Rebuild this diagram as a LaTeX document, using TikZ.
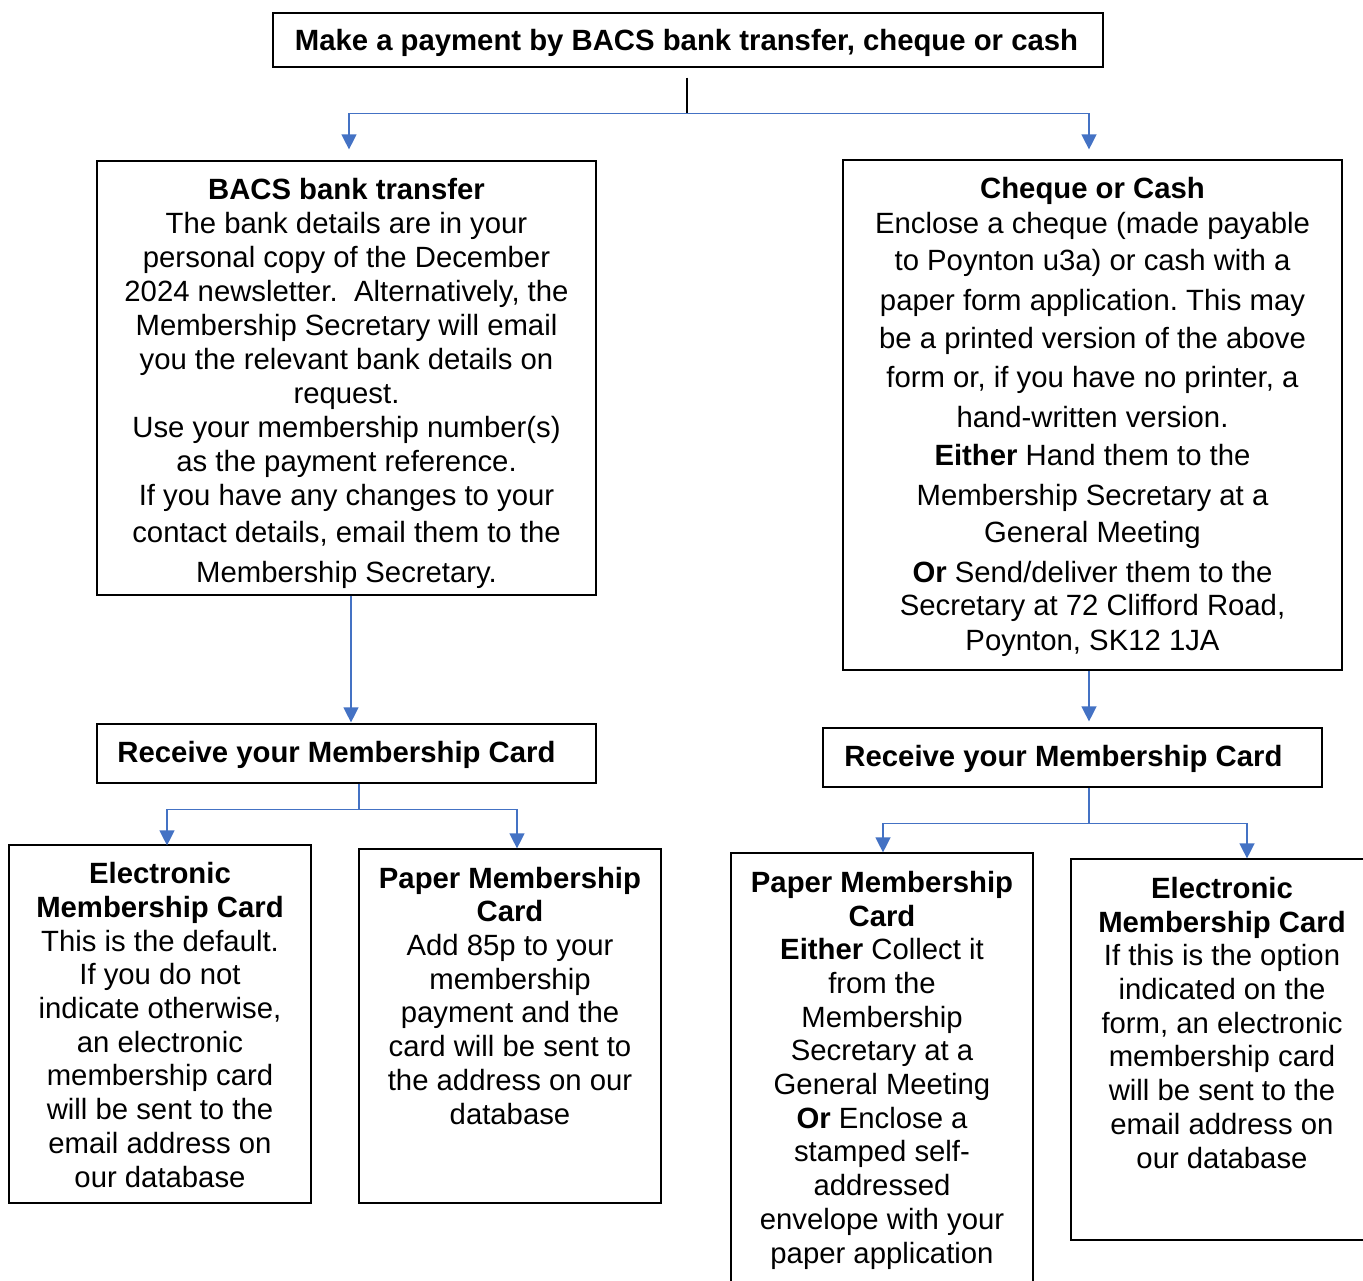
\documentclass[tikz,border=0pt]{standalone}
\usepackage{fontspec}
\setmainfont{Liberation Sans}
\usetikzlibrary{arrows.meta,calc}
\definecolor{lineblue}{HTML}{4472C4}
\frenchspacing
\begin{document}
\begin{tikzpicture}[x=1pt,y=-1pt,
  box/.style={draw=black, line width=1.2pt, inner sep=0pt, rectangle},
  txt/.style={font=\fontsize{29.3}{34}\selectfont, align=center, anchor=base, inner sep=0pt},
  txtb/.style={font=\fontsize{29.3}{33.7}\selectfont, align=center, anchor=base, inner sep=0pt},
  boldtxt/.style={txt, font=\fontsize{29.3}{34}\selectfont\bfseries},
  plainline/.style={draw=black, line width=1.2pt},
  bline/.style={draw=lineblue, line width=1.3pt},
  conn/.style={bline, -{Triangle[width=15pt,length=15pt]}}]
\fill[white] (0,0) rectangle (1363,1281);
\useasboundingbox (0,0) rectangle (1363,1281);

% boxes
\node[box, minimum width=830pt, minimum height=54pt] (title) at (688,40) {};
\node[box, minimum width=499pt, minimum height=434pt] (bacs) at (346.5,378) {};
\node[box, minimum width=499pt, minimum height=510pt] (cheque) at (1092.5,415) {};
\node[box, minimum width=499pt, minimum height=59pt] (recL) at (346.5,753.5) {};
\node[box, minimum width=499pt, minimum height=59pt] (recR) at (1072.5,757.5) {};
\node[box, minimum width=302pt, minimum height=358pt] (elecL) at (160,1024) {};
\node[box, minimum width=302pt, minimum height=354pt] (paperL) at (510,1026) {};
\node[box, minimum width=302pt, minimum height=447pt] (paperR) at (882,1076.5) {};
\node[box, minimum width=302pt, minimum height=381pt] (elecR) at (1222,1049.5) {};

% texts (anchor = baseline of the last line)
\node[boldtxt] (titleT) at (686.5,51) {Make a payment by BACS bank transfer, cheque or cash};

\node[txt] (bacsT) at (346.5,582) {\textbf{BACS bank transfer}\\
The bank details are in your\\
personal copy of the December\\
2024 newsletter.\ \ Alternatively, the\\
Membership Secretary will email\\
you the relevant bank details on\\
request.\\
Use your membership number(s)\\
as the payment reference.\\
If you have any changes to your\\[3pt]
contact details, email them to the\\[6pt]
Membership Secretary.};

\node[txt] (chequeT) at (1092.5,650) {\textbf{Cheque or Cash}\\[1pt]
Enclose a cheque (made payable\\[3pt]
to Poynton u3a) or cash with a\\[6pt]
paper form application. This may\\[4pt]
be a printed version of the above\\[5pt]
form or, if you have no printer, a\\[6pt]
hand-written version.\\[4pt]
\textbf{Either} Hand them to the\\[6pt]
Membership Secretary at a\\[3pt]
General Meeting\\[6pt]
\textbf{Or} Send/deliver them to the\\[-1pt]
Secretary at 72 Clifford Road,\\[1pt]
Poynton, SK12 1JA};

\node[boldtxt] (recLT) at (336.5,762) {Receive your Membership Card};
\node[boldtxt] (recRT) at (1063.5,766) {Receive your Membership Card};

\node[txtb] (elecLT) at (160,1187) {\textbf{Electronic}\\
\textbf{Membership Card}\\
This is the default.\\
If you do not\\
indicate otherwise,\\
an electronic\\
membership card\\
will be sent to the\\
email address on\\
our database};

\node[txtb] (paperLT) at (510,1124) {\textbf{Paper Membership}\\
\textbf{Card}\\
Add 85p to your\\
membership\\
payment and the\\
card will be sent to\\
the address on our\\
database};

\node[txtb] (paperRT) at (882,1263) {\textbf{Paper Membership}\\
\textbf{Card}\\
\textbf{Either} Collect it\\
from the\\
Membership\\
Secretary at a\\
General Meeting\\
\textbf{Or} Enclose a\\
stamped self-\\
addressed\\
envelope with your\\
paper application};

\node[txtb] (elecRT) at (1222,1168) {\textbf{Electronic}\\
\textbf{Membership Card}\\
If this is the option\\
indicated on the\\
form, an electronic\\
membership card\\
will be sent to the\\
email address on\\
our database};

% connectors
\coordinate (j0) at ($(title.south)+(-1,10)$);
\coordinate (j1) at ($(title.south)+(-1,46)$);
\draw[plainline] (j0) -- (j1);
\draw[conn] (j1) -| ($(bacs.north)+(2.5,-11)$);
\draw[conn] (j1) -| ($(cheque.north)+(-3.5,-10)$);

\draw[conn] ($(bacs.south)+(4.5,0)$) -- ($(recL.north)+(4.5,-1)$);
\coordinate (j2) at ($(recL.south)+(12.5,26)$);
\draw[bline] ($(recL.south)+(12.5,0)$) -- (j2);
\draw[conn] (j2) -| ($(elecL.north)+(7,1)$);
\draw[conn] (j2) -| ($(paperL.north)+(7,0)$);

\draw[conn] ($(cheque.south)+(-3.5,0)$) -- ($(recR.north)+(16.5,-6)$);
\coordinate (j3) at ($(recR.south)+(16.5,36)$);
\draw[bline] ($(recR.south)+(16.5,0)$) -- (j3);
\draw[conn] (j3) -| ($(paperR.north)+(1,0)$);
\draw[conn] (j3) -| ($(elecR.north)+(25,0)$);
\end{tikzpicture}
\end{document}
